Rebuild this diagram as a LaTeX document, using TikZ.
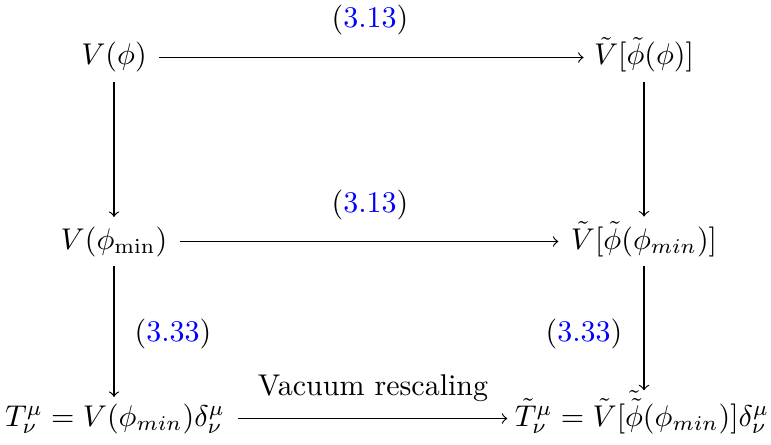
\documentclass[tikz,border=0pt]{standalone}
\usepackage{xcolor}
\newcommand{\myref}[1]{(\textcolor{blue}{#1})}
\begin{document}
\begin{tikzpicture}[x=0.3333pt,y=-0.3333pt,
  obj/.style={anchor=base,inner sep=0pt},
  lbl/.style={inner sep=0pt},
  arr/.style={->}]
\useasboundingbox (0,0) rectangle (771,444);
% objects
\node[obj] (A) at (114,65) {$V(\phi)$};
\node[obj] (B) at (644,65) {$\tilde V[\tilde\phi(\phi)]$};
\node[obj] (C) at (114,249) {$V(\phi_{\min})$};
\node[obj] (D) at (644,249) {$\tilde V[\tilde\phi(\phi_{min})]$};
\node[obj] (E) at (115,426) {$T^\mu_\nu = V(\phi_{min})\delta^\mu_\nu$};
\node[obj] (F) at (642,426) {$\tilde T^\mu_\nu = \tilde V[\tilde{\tilde\phi}(\phi_{min})]\delta^\mu_\nu$};
% labels
\node[lbl] (l1) at (370,20) {\myref{3.13}};
\node[lbl] (l2) at (370,205) {\myref{3.13}};
\node[lbl] (l3) at (173,334) {\myref{3.33}};
\node[lbl] (l4) at (584,334) {\myref{3.33}};
\node[lbl] (l5) at (373,388) {Vacuum rescaling};
% horizontal arrows
\draw[arr] ([xshift=4pt,yshift=2.5pt]A.base east) -- ([xshift=-3.3pt,yshift=2.5pt]B.base west);
\draw[arr] ([xshift=4pt,yshift=2.5pt]C.base east) -- ([xshift=-4pt,yshift=2.5pt]D.base west);
\draw[arr] ([xshift=4pt,yshift=2.5pt]E.base east) -- ([xshift=-2.3pt,yshift=2.5pt]F.base west);
% vertical arrows
\draw[arr] ([yshift=-3pt]A.south) -- ([yshift=3pt]A.south |- C.north);
\draw[arr] ([yshift=-3pt]C.south) -- ([yshift=2pt]C.south |- E.north);
\draw[arr] ([yshift=-3pt]B.south) -- ([yshift=1.3pt]B.south |- D.north);
\draw[arr] ([yshift=-3pt]D.south) -- ([yshift=0pt]D.south |- F.north);
\end{tikzpicture}
\end{document}
